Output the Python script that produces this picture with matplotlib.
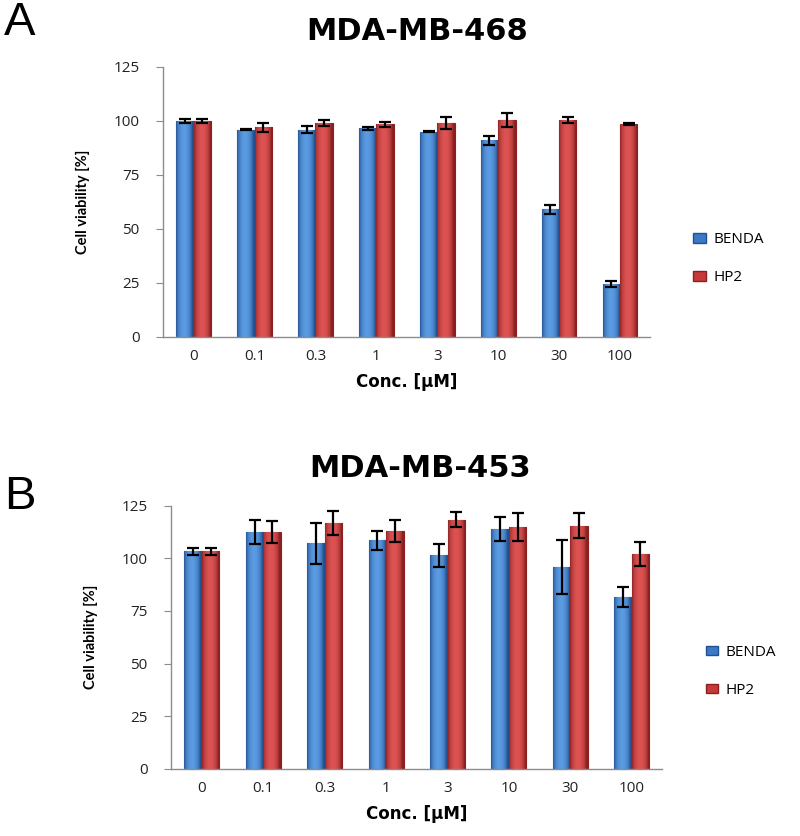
import numpy as np
import matplotlib
matplotlib.use('Agg')
import matplotlib.pyplot as plt
from matplotlib.patches import Patch
from matplotlib.colors import to_rgb

plt.rcParams['font.family'] = ['Open Sans', 'DejaVu Sans']

concs = ['0', '0.1', '0.3', '1', '3', '10', '30', '100']

# MDA-MB-468
benda_468 = [100, 96, 96, 96.5, 95, 91, 59, 24.5]
benda_468_err = [1.0, 0.3, 1.5, 0.7, 0.3, 2.0, 2.0, 1.3]
hp2_468 = [100, 97, 99, 98.5, 99, 100.5, 100.5, 98.5]
hp2_468_err = [0.8, 2.0, 1.5, 1.2, 2.8, 3.3, 1.5, 0.5]

# MDA-MB-453
benda_453 = [103.3, 112.5, 107.2, 108.7, 101.5, 114, 96, 81.7]
benda_453_err = [1.8, 5.6, 9.8, 4.5, 5.5, 5.9, 12.8, 4.8]
hp2_453 = [103.3, 112.5, 116.8, 113.1, 118.3, 115.1, 115.5, 102]
hp2_453_err = [1.8, 5.1, 5.5, 5.3, 3.6, 6.7, 6.0, 5.7]

BLUE = '#3b78c8'
RED = '#c83a3a'
BLUE_DARK = '#23508f'
RED_DARK = '#8a2020'
BLUE_LIGHT = '#5a9be2'
RED_LIGHT = '#dd5353'

BOLD_FONT = ['DejaVu Sans']


def shade_bars(ax, bars, dark, light):
    # horizontal gradient inside each bar to mimic the 3D look
    t = np.linspace(0, 1, 64)
    wgt = np.sin(np.pi * np.clip(t * 1.1, 0, 1)) ** 0.6
    d = np.array(to_rgb(dark))
    l = np.array(to_rgb(light))
    row = d[None, :] * (1 - wgt[:, None]) + l[None, :] * wgt[:, None]
    img = row[None, :, :]
    for b in bars:
        x0, y0 = b.get_x(), b.get_y()
        im = ax.imshow(img, extent=[x0, x0 + b.get_width(), y0, y0 + b.get_height()],
                       aspect='auto', zorder=b.get_zorder() + 0.1, interpolation='bilinear')
        im.set_clip_path(b)


def draw_panel(ax, benda, benda_err, hp2, hp2_err, legend_y):
    x = np.arange(len(concs))
    w = 0.285
    ekw = dict(ecolor='black', elinewidth=1.6, capsize=4, capthick=1.6, zorder=5)
    b1 = ax.bar(x - w / 2, benda, w, color=BLUE, edgecolor=BLUE_DARK, linewidth=0.8,
                yerr=benda_err, error_kw=ekw)
    b2 = ax.bar(x + w / 2, hp2, w, color=RED, edgecolor=RED_DARK, linewidth=0.8,
                yerr=hp2_err, error_kw=ekw)
    shade_bars(ax, b1, BLUE_DARK, BLUE_LIGHT)
    shade_bars(ax, b2, RED_DARK, RED_LIGHT)
    ax.set_xlim(-0.5, len(concs) - 0.5)
    ax.set_ylim(0, 125)
    ax.set_yticks([0, 25, 50, 75, 100, 125])
    ax.set_xticks(x)
    ax.set_xticklabels(concs)
    for s in ['top', 'right']:
        ax.spines[s].set_visible(False)
    for s in ['left', 'bottom']:
        ax.spines[s].set_color('#8c8c8c')
        ax.spines[s].set_linewidth(1.0)
    ax.tick_params(axis='y', length=5, color='#8c8c8c', labelsize=11, labelcolor='#222222', pad=12)
    ax.tick_params(axis='x', length=0, labelsize=11, labelcolor='#222222', pad=9)
    ax.set_xlabel('Conc. [\u03bcM]', fontsize=12, fontweight='bold', labelpad=6, family=BOLD_FONT)
    ax.set_ylabel('Cell viability [%]', fontsize=10.5, fontweight='bold', family=['Lato', 'DejaVu Sans'])
    ax.yaxis.set_label_coords(-0.15, 0.5)
    handles = [Patch(facecolor=BLUE, edgecolor=BLUE_DARK), Patch(facecolor=RED, edgecolor=RED_DARK)]
    ax.legend(handles, ['BENDA', 'HP2'], loc='center left', bbox_to_anchor=(1.06, legend_y),
              frameon=False, fontsize=11, handlelength=0.8, handleheight=0.6,
              labelspacing=1.5, handletextpad=0.5)


fig = plt.figure(figsize=(8, 8.36), dpi=100)

ax1 = fig.add_axes([0.204, 0.597, 0.609, 0.323])
draw_panel(ax1, benda_468, benda_468_err, hp2_468, hp2_468_err, 0.29)

ax2 = fig.add_axes([0.214, 0.0805, 0.614, 0.3145])
draw_panel(ax2, benda_453, benda_453_err, hp2_453, hp2_453_err, 0.37)

fig.text(0.005, 0.972, 'A', fontsize=34, va='center', ha='left', family=['Liberation Sans'])
fig.text(0.005, 0.405, 'B', fontsize=34, va='center', ha='left', family=['Liberation Sans'])
fig.text(0.522, 0.962, 'MDA-MB-468', fontsize=22, fontweight='bold', ha='center', va='center',
         family=BOLD_FONT)
fig.text(0.525, 0.440, 'MDA-MB-453', fontsize=22, fontweight='bold', ha='center', va='center',
         family=BOLD_FONT)

fig.savefig('out.png', dpi=100)
